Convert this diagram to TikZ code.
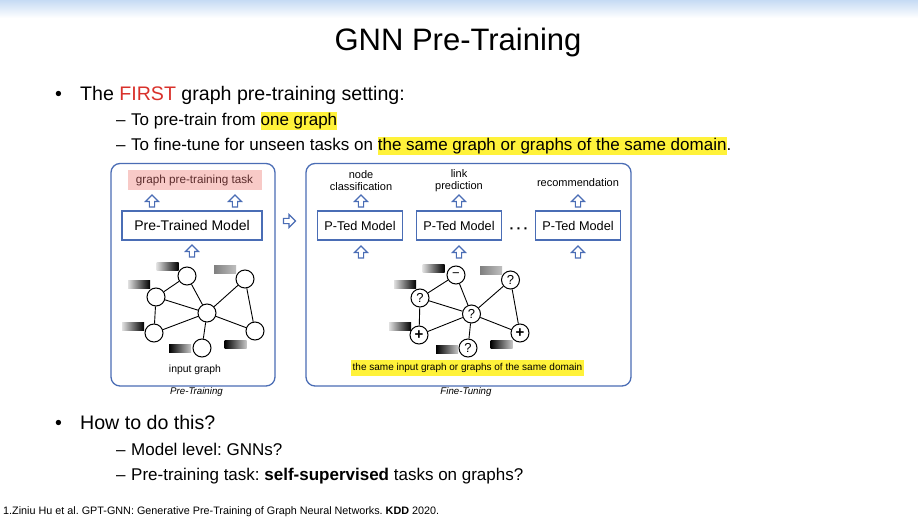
\documentclass[tikz,border=0pt]{standalone}
\usepackage{fontspec}
\setmainfont{Liberation Sans}
\AtBeginDocument{\frenchspacing}
\definecolor{pblue}{HTML}{4A6DB5}
\definecolor{hl}{HTML}{FFF23A}
\definecolor{pinkbg}{HTML}{F8CAC7}
\definecolor{pinktxt}{HTML}{5B2B2B}
\definecolor{fred}{HTML}{D9312B}
\definecolor{topblue}{HTML}{C6DBF4}
\newcommand{\hlbox}[1]{{\setlength{\fboxsep}{0pt}\colorbox{hl}{\rule[-4pt]{0pt}{18pt}#1}}}
\tikzset{
  txt/.style={inner sep=0pt, anchor=base west},
  panel/.style={draw=pblue, line width=1.3pt, rounded corners=9pt},
  mbox/.style={draw=pblue, line width=1.2pt, fill=white, minimum height=29pt, inner sep=0pt},
  gn/.style={circle, draw=black, line width=1pt, fill=white, minimum size=18pt, inner sep=0pt, font=\fontsize{13}{13}\selectfont},
  ge/.style={line width=0.9pt},
  fbar/.style={rectangle, minimum width=22pt, minimum height=8pt, inner sep=0pt},
  ltod/.style={fbar, left color=black!12, right color=black},
  dtol/.style={fbar, left color=black, right color=black!22},
  gbar/.style={fbar, left color=black!50, right color=black!25},
  smalltxt/.style={inner sep=0pt, align=center, font=\fontsize{11}{12}\selectfont},
  uparr/.pic={\draw[pblue, line width=1.1pt, fill=white, line join=miter] (-2.6,6)--(-2.6,0.5)--(-6.5,0.5)--(0,-6)--(6.5,0.5)--(2.6,0.5)--(2.6,6)--cycle;},
  rarr/.pic={\draw[pblue, line width=1.1pt, fill=white, line join=miter] (-6,-2.6)--(-0.5,-2.6)--(-0.5,-6.5)--(6,0)--(-0.5,6.5)--(-0.5,2.6)--(-6,2.6)--cycle;}
}
\begin{document}
\begin{tikzpicture}[x=1pt, y=-1pt]
\useasboundingbox (0,0) rectangle (918,522);
\fill[white] (0,0) rectangle (918,522);
\fill[top color=topblue, bottom color=white] (0,0) rectangle (918,18);

% title
\node[inner sep=0pt] (title) at (458,42) {\fontsize{31}{36}\selectfont GNN Pre-Training};

% first bullet block
\node[txt] (b1) at (55,100) {\fontsize{19.6}{22}\selectfont •};
\node[txt] (t1) at (80,100) {\fontsize{19.6}{22}\selectfont The \textcolor{fred}{FIRST} graph pre-training setting:};
\node[txt] (d1) at (116,125.7) {\fontsize{17}{20}\selectfont –};
\node[txt] (t2) at (131,125.7) {\fontsize{17}{20}\selectfont To pre-train from \hlbox{one graph}};
\node[txt] (d2) at (116,150.7) {\fontsize{17}{20}\selectfont –};
\node[txt] (t3) at (131,150.7) {\fontsize{17}{20}\selectfont To fine-tune for unseen tasks on \hlbox{the same graph or graphs of the same domain}.};

% panels
\draw[panel] (111,163.5) rectangle (275,386);
\draw[panel] (306,163.5) rectangle (631,386);
\node[inner sep=0pt, font=\fontsize{9.7}{11}\selectfont\itshape] (lpt) at (196.5,391.5) {Pre-Training};
\node[inner sep=0pt, font=\fontsize{9.7}{11}\selectfont\itshape] (lft) at (466,391.5) {Fine-Tuning};

% left panel
\node[fill=pinkbg, minimum width=134pt, minimum height=20pt, inner sep=0pt, text=pinktxt, font=\fontsize{11.7}{13}\selectfont] (task) at (194.5,180) {graph pre-training task};
\pic at (152,201) {uparr};
\pic at (235,201) {uparr};
\node[mbox, minimum width=140pt, font=\fontsize{14}{16}\selectfont] (ptm) at (192,225.5) {Pre-Trained Model};
\pic at (192,251) {uparr};

\node[gn] (la) at (187,276) {};
\node[gn] (lb) at (156,297) {};
\node[gn] (lc) at (207,313) {};
\node[gn] (ld) at (245,279) {};
\node[gn] (le) at (154,333) {};
\node[gn] (lf) at (255,331) {};
\node[gn] (lg) at (202,348) {};
\draw[ge] (la) -- (lb);
\draw[ge] (la) -- (lc);
\draw[ge] (lb) -- (lc);
\draw[ge] (lb) -- (le);
\draw[ge] (le) -- (lc);
\draw[ge] (lc) -- (ld);
\draw[ge] (lc) -- (lf);
\draw[ge] (ld) -- (lf);
\draw[ge] (lc) -- (lg);
\node[ltod] (lfa) at (167.5,266) {};
\node[ltod] (lfb) at (139,284) {};
\node[gbar] (lfd) at (225,269.5) {};
\node[ltod] (lfe) at (133,326) {};
\node[dtol] (lfg) at (180,348) {};
\node[dtol] (lff) at (235.5,344) {};
\node[inner sep=0pt, font=\fontsize{10.4}{12}\selectfont] (ig) at (195,370) {input graph};

% between
\pic at (289.5,221) {rarr};

% right panel
\node[smalltxt] (nc) at (361,181) {node\\classification};
\node[smalltxt] (lp) at (459,181) {link\\prediction};
\node[smalltxt] (rec) at (578,182.5) {recommendation};
\pic at (361,201) {uparr};
\pic at (459,201) {uparr};
\pic at (578,201) {uparr};
\node[mbox, minimum width=85pt, font=\fontsize{12.7}{15}\selectfont] (m1) at (360,225.5) {P-Ted Model};
\node[mbox, minimum width=85pt, font=\fontsize{12.7}{15}\selectfont] (m2) at (459,225.5) {P-Ted Model};
\node[mbox, minimum width=85pt, font=\fontsize{12.7}{15}\selectfont] (m3) at (578,225.5) {P-Ted Model};
\node[inner sep=0pt, font=\fontsize{14}{14}\selectfont\bfseries] (dots) at (519,231) {·\,·\,·};
\pic at (361,252) {uparr};
\pic at (459,252) {uparr};
\pic at (578,252) {uparr};

\node[gn] (ra) at (456,275) {−};
\node[gn] (rb) at (420,298) {?};
\node[gn] (rc) at (471.5,314) {?};
\node[gn] (rd) at (510.5,280) {?};
\node[gn, font=\fontsize{15}{15}\selectfont\bfseries] (re) at (419,335) {+};
\node[gn, font=\fontsize{15}{15}\selectfont\bfseries] (rf) at (520,333) {+};
\node[gn] (rg) at (468,348) {?};
\draw[ge] (ra) -- (rb);
\draw[ge] (ra) -- (rc);
\draw[ge] (rb) -- (rc);
\draw[ge] (rb) -- (re);
\draw[ge] (re) -- (rc);
\draw[ge] (rc) -- (rd);
\draw[ge] (rc) -- (rf);
\draw[ge] (rd) -- (rf);
\draw[ge] (rc) -- (rg);
\node[ltod] (rfa) at (433.5,268.5) {};
\node[ltod] (rfb) at (405,284) {};
\node[gbar] (rfd) at (491,270.5) {};
\node[ltod] (rfe) at (400,326) {};
\node[dtol] (rfg) at (447,349) {};
\node[dtol] (rff) at (501.5,344) {};
\node[fill=hl, inner xsep=1.5pt, inner ysep=0pt, minimum height=16pt, font=\fontsize{10}{12}\selectfont] (same) at (467.5,368) {the same input graph or graphs of the same domain};

% second bullet block
\node[txt] (b2) at (55,429) {\fontsize{19.6}{22}\selectfont •};
\node[txt] (t4) at (80,429) {\fontsize{19.6}{22}\selectfont How to do this?};
\node[txt] (d3) at (116,455.7) {\fontsize{17}{20}\selectfont –};
\node[txt] (t5) at (131,455.7) {\fontsize{17}{20}\selectfont Model level: GNNs?};
\node[txt] (d4) at (116,480.7) {\fontsize{17}{20}\selectfont –};
\node[txt] (t6) at (131,480.7) {\fontsize{17}{20}\selectfont Pre-training task: \textbf{self-supervised} tasks on graphs?};

% footnote
\node[txt] (fn) at (3,514.5) {\fontsize{10.8}{12}\selectfont 1.Ziniu Hu et al. GPT-GNN: Generative Pre-Training of Graph Neural Networks. \textbf{KDD} 2020.};
\end{tikzpicture}
\end{document}
